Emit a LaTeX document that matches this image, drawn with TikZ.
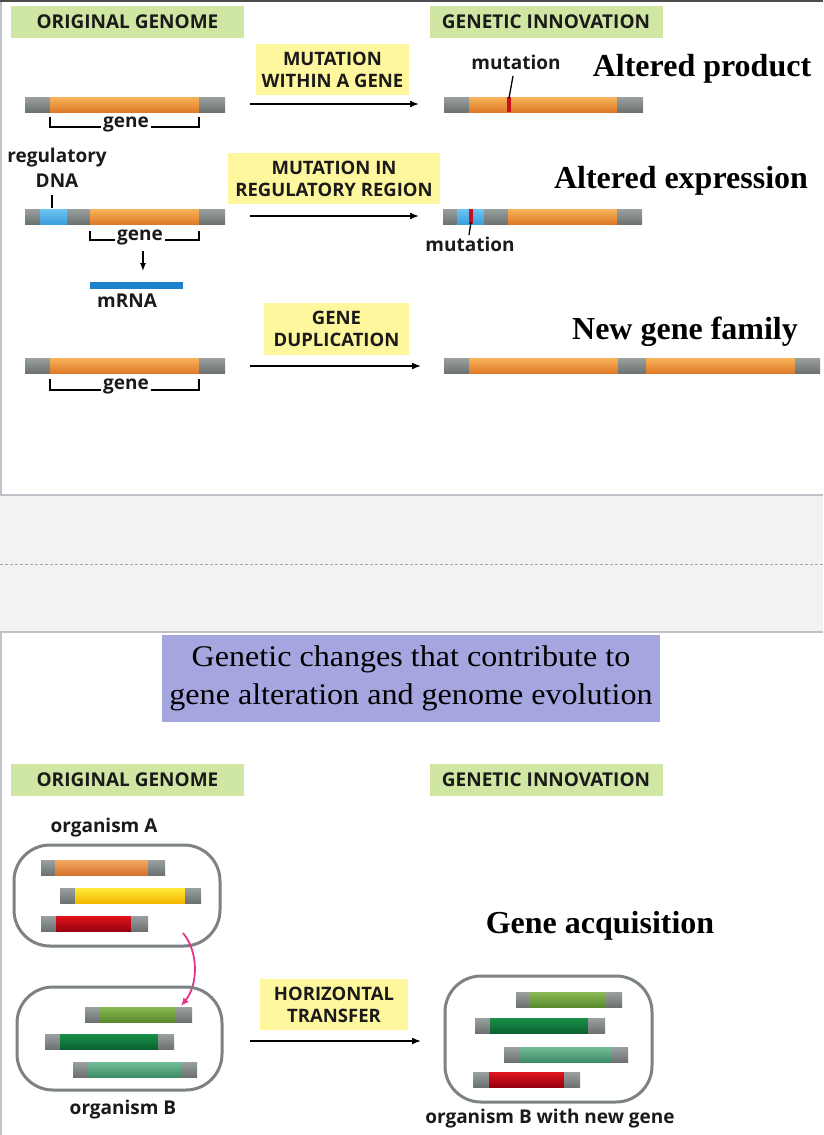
\documentclass[tikz,border=0pt]{standalone}
\usepackage{fontspec}
\setmainfont{Liberation Serif}
\setsansfont{Open Sans}
\newfontfamily\titlefont{Liberation Serif}[FakeStretch=1.07]
\usetikzlibrary{arrows.meta}
\definecolor{grT}{HTML}{9A9FA0}\definecolor{grB}{HTML}{6C7172}
\definecolor{orT}{HTML}{F7B25A}\definecolor{orB}{HTML}{DF7A28}
\definecolor{blT}{HTML}{70C6F2}\definecolor{blB}{HTML}{3A9EE0}
\definecolor{yeT}{HTML}{FFE838}\definecolor{yeB}{HTML}{F2B800}
\definecolor{rdT}{HTML}{E0141C}\definecolor{rdB}{HTML}{980010}
\definecolor{ogT}{HTML}{F2A860}\definecolor{ogB}{HTML}{D6722E}
\definecolor{lgT}{HTML}{8ABA52}\definecolor{lgB}{HTML}{5A8A30}
\definecolor{dgT}{HTML}{1A9048}\definecolor{dgB}{HTML}{0A6230}
\definecolor{tgT}{HTML}{74BE98}\definecolor{tgB}{HTML}{3E8C66}
\definecolor{mutred}{HTML}{C8101A}
\definecolor{mrnablue}{HTML}{1E82CA}
\definecolor{hdrgreen}{HTML}{CFE7A2}
\definecolor{yelbox}{HTML}{FFF79E}
\definecolor{titlebox}{HTML}{A5A5DF}
\definecolor{orgline}{HTML}{7D8384}
\definecolor{bandgray}{HTML}{F2F2F2}
\definecolor{panelline}{HTML}{C0C2CA}
\definecolor{magentaarrow}{HTML}{E6338A}
\definecolor{txt}{HTML}{1A1A1A}
\newcommand\gseg[4]{\shade[top color=#4T, bottom color=#4B] (#1,#3) rectangle (#2,#3+15);}
\newcommand\dnabar[6]{\gseg{#1}{#2}{#5}{gr}\gseg{#2}{#3}{#5}{#6}\gseg{#3}{#4}{#5}{gr}}
\tikzset{
  lab/.style={font=\sffamily\bfseries\fontsize{19}{22}\selectfont, text=txt, align=center, inner sep=1},
  hdr/.style={fill=hdrgreen, minimum width=233, minimum height=32, inner sep=0, text=txt,
    font=\sffamily\bfseries\fontsize{19}{22}\selectfont},
  yel/.style={fill=yelbox, inner sep=0, align=center, text=txt,
    font=\sffamily\bfseries\fontsize{18.5}{22}\selectfont},
  big/.style={font=\rmfamily\bfseries\fontsize{32}{34}\selectfont, anchor=base, inner sep=0},
  flow/.style={-{Latex[length=9,width=7]}, line width=1.6},
  bracket/.style={line width=1.3},
  tick/.style={line width=1.3},
  orgbox/.style={draw=orgline, line width=3, rounded corners=36},
  whitebg/.style={fill=white, inner sep=2}
}
\begin{document}
\begin{tikzpicture}[x=1pt,y=-1pt]
\useasboundingbox (0,0) rectangle (823,1135);
% panels
\fill[white] (0,0) rectangle (823,1135);
\fill[bandgray] (0,495) rectangle (823,632);
\draw[panelline, line width=1.2] (0,495) -- (823,495);
\draw[panelline, line width=1.2] (0,632) -- (823,632);
\draw[panelline, line width=1.2] (1,0) -- (1,495);
\draw[panelline, line width=1.2] (1,632) -- (1,1135);
\draw[gray!70, line width=0.8, dash pattern=on 3 off 2] (0,564) -- (823,564);
\draw[black!70, line width=2] (0,1) -- (823,1);

% ===== top section =====
\node[hdr] (og1) at (127.5,22) {ORIGINAL GENOME};
\node[hdr] (gi1) at (546,22) {GENETIC INNOVATION};

% row 1
\dnabar{25}{50}{199}{225}{97}{or}
\draw[bracket] (50,117) -- (50,127) -- (199,127) -- (199,117);
\node[lab, whitebg] (g1) at (126,124) {gene};
\node[yel, minimum width=153, minimum height=51] (y1) at (332.5,69.5) {MUTATION\\WITHIN A GENE};
\coordinate (a1s) at (250,104); \coordinate (a1e) at (419,104);
\draw[flow] (a1s) -- (a1e);
\dnabar{444}{469}{617}{643}{97}{or}
\fill[mutred] (507,97) rectangle (511,112);
\node[lab] (m1) at (516,62) {mutation};
\coordinate (m1t) at (513,76); \coordinate (m1b) at (509,98);
\draw[tick] (m1t) -- (m1b);
\node[big] (t1) at (702,76) {Altered product};

% row 2
\node[lab] (reg) at (57,158) {regulatory};
\node[lab] (dna) at (57,181) {DNA};
\coordinate (rt) at (52,195); \coordinate (rb) at (52,208);
\draw[tick] (rt) -- (rb);
\gseg{25}{40}{209}{gr}\gseg{40}{67}{209}{bl}\gseg{67}{90}{209}{gr}\gseg{90}{199}{209}{or}\gseg{199}{225}{209}{gr}
\draw[bracket] (90,231) -- (90,240) -- (199,240) -- (199,231);
\node[lab, whitebg] (g2) at (140,237) {gene};
\coordinate (d1) at (143,251); \coordinate (d2) at (143,271);
\draw[-{Latex[length=8,width=6]}, line width=1.3] (d1) -- (d2);
\fill[mrnablue] (90,282) rectangle (183,289);
\node[lab] (mrna) at (127,301) {mRNA};
\node[yel, minimum width=212, minimum height=51] (y2) at (334,178.5) {MUTATION IN\\REGULATORY REGION};
\coordinate (a2s) at (250,216); \coordinate (a2e) at (419,216);
\draw[flow] (a2s) -- (a2e);
\gseg{443}{457}{209}{gr}\gseg{457}{484}{209}{bl}\gseg{484}{508}{209}{gr}\gseg{508}{617}{209}{or}\gseg{617}{642}{209}{gr}
\fill[mutred] (469,209) rectangle (473,224);
\node[lab] (m2) at (470,244) {mutation};
\coordinate (m2t) at (471,222); \coordinate (m2b) at (469,235);
\draw[tick] (m2t) -- (m2b);
\node[big] (t2) at (681,188) {Altered expression};

% row 3
\dnabar{25}{50}{199}{225}{358}{or}
\draw[bracket] (50,379) -- (50,390) -- (199,390) -- (199,379);
\node[lab, whitebg] (g3) at (126,386) {gene};
\node[yel, minimum width=145, minimum height=52] (y3) at (336.5,329) {GENE\\DUPLICATION};
\coordinate (a3s) at (250,366); \coordinate (a3e) at (421,366);
\draw[flow] (a3s) -- (a3e);
\gseg{444}{469}{358}{gr}\gseg{469}{618}{358}{or}\gseg{618}{646}{358}{gr}\gseg{646}{795}{358}{or}\gseg{795}{820}{358}{gr}
\node[big] (t3) at (685,339) {New gene family};

% ===== title =====
\node[fill=titlebox, minimum width=498, minimum height=87, inner sep=0, align=center,
  font=\titlefont\fontsize{30}{34}\selectfont] (title) at (411,678)
  {Genetic changes that contribute to\\[4pt]gene alteration and genome evolution};

% ===== bottom section =====
\node[hdr] (og2) at (127.5,780) {ORIGINAL GENOME};
\node[hdr] (gi2) at (546,780) {GENETIC INNOVATION};
\node[lab] (orgA) at (104,828) {organism A};
\draw[orgbox] (14,845) rectangle (220,946);
\dnabar{41}{55}{148}{165}{860}{og}
\dnabar{60}{75}{185}{201}{888}{ye}
\dnabar{41}{56}{131}{148}{916}{rd}
\coordinate (hs) at (183,933); \coordinate (he) at (181,1006);
\draw[magentaarrow, line width=1.8, -{Latex[length=8,width=7]}] (hs) .. controls (199,952) and (198,985) .. (he);
\draw[orgbox] (17,987) rectangle (222,1090);
\dnabar{85}{100}{175}{192}{1007}{lg}
\dnabar{45}{60}{158}{174}{1034}{dg}
\dnabar{73}{88}{181}{197}{1062}{tg}
\node[lab] (orgB) at (123,1110) {organism B};
\node[yel, minimum width=148, minimum height=51] (y4) at (334,1004.5) {HORIZONTAL\\TRANSFER};
\coordinate (a4s) at (250,1041); \coordinate (a4e) at (421,1041);
\draw[flow] (a4s) -- (a4e);
\node[big] (t4) at (600,933) {Gene acquisition};
\draw[orgbox] (445,976) rectangle (652,1102);
\dnabar{516}{530}{606}{622}{992}{lg}
\dnabar{475}{490}{588}{605}{1018}{dg}
\dnabar{504}{519}{612}{628}{1047}{tg}
\dnabar{473}{489}{564}{580}{1072}{rd}
\node[lab] (orgBn) at (550,1119) {organism B with new gene};
\end{tikzpicture}
\end{document}
